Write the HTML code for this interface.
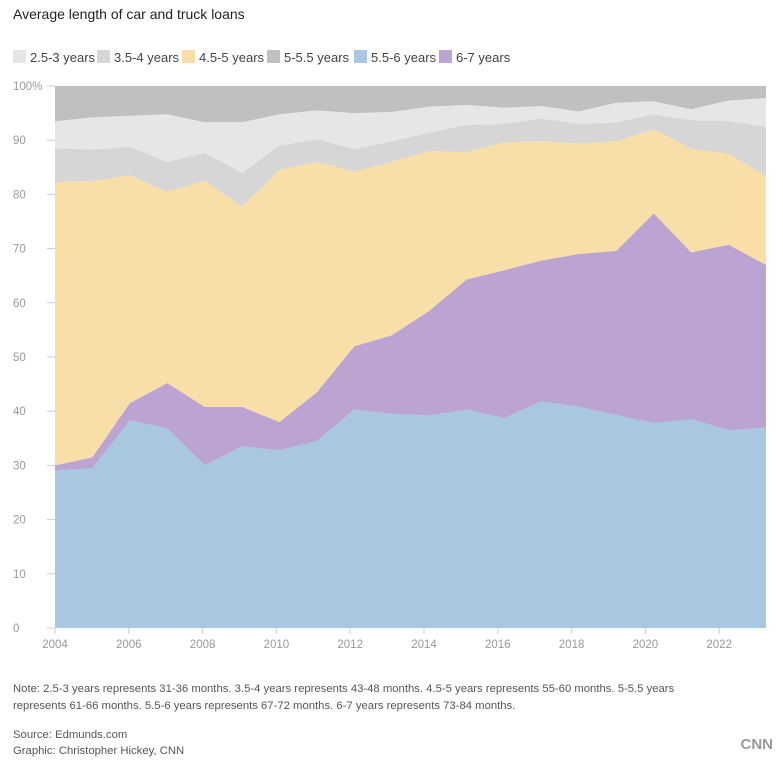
<!DOCTYPE html>
<html><head><meta charset="utf-8"><style>
body{margin:0;background:#fff;font-family:"Liberation Sans",sans-serif;}
svg text{font-family:"Liberation Sans",sans-serif;}
</style></head><body>
<svg id="chart" width="783" height="766">
<text x="13" y="19" font-size="14" fill="#222">Average length of car and truck loans</text>
<g id="legend"></g>
<g id="grid"></g>
<g id="areas"></g>
<g id="axes"></g>
<text x="13" y="692" font-size="11.3" fill="#555">Note: 2.5-3 years represents 31-36 months. 3.5-4 years represents 43-48 months. 4.5-5 years represents 55-60 months. 5-5.5 years</text>
<text x="13" y="709" font-size="11.3" fill="#555">represents 61-66 months. 5.5-6 years represents 67-72 months. 6-7 years represents 73-84 months.</text>
<text x="13" y="738" font-size="11.3" fill="#555">Source: Edmunds.com</text>
<text x="13" y="754" font-size="11.3" fill="#555">Graphic: Christopher Hickey, CNN</text>
<text x="773" y="749" font-size="15" font-weight="bold" fill="#999" text-anchor="end">CNN</text>
</svg>
<script>
const years=[2004,2005,2006,2007,2008,2009,2010,2011,2012,2013,2014,2015,2016,2017,2018,2019,2020,2021,2022,2023];
// cumulative tops of each stacked layer (bottom to top)
const s56=[29,29.5,38.3,36.8,30,33.5,32.8,34.5,40.3,39.5,39.2,40.3,38.7,41.8,40.8,39.3,37.8,38.5,36.5,37];
const s67=[30,31.5,41.5,45.2,40.8,40.8,38,43.5,52,54,58.5,64.3,66,67.8,69,69.6,76.5,69.3,70.7,67];
const s45=[82.2,82.5,83.5,80.5,82.5,77.7,84.5,86,84.2,86,88,87.8,89.6,89.8,89.4,89.8,92,88.4,87.5,83.3];
const s354=[88.5,88.3,88.8,86,87.7,84,89,90.2,88.4,89.8,91.4,92.8,93,94,93,93.3,94.8,93.7,93.6,92.4];
const s253=[93.5,94.2,94.5,94.8,93.3,93.3,94.8,95.5,95,95.2,96.2,96.5,96,96.3,95.3,96.9,97.2,95.7,97.3,97.8];
const s555=[100,100,100,100,100,100,100,100,100,100,100,100,100,100,100,100,100,100,100,100];
const xTicks=[2004,2006,2008,2010,2012,2014,2016,2018,2020,2022];
const yTicks=[0,10,20,30,40,50,60,70,80,90,100];
const legendNames=["2.5-3 years","3.5-4 years","4.5-5 years","5-5.5 years","5.5-6 years","6-7 years"];
const legendColors=["#e6e6e6","#d6d6d6","#f9dea8","#c0c0c0","#a8c8df","#bba4d1"];
const NS="http://www.w3.org/2000/svg";
const x0=55,x1=766,y0=628,y1=86;
const xmin=2004,xmax=2004+(x1-x0)/36.9;
const X=v=>x0+(v-xmin)/(xmax-xmin)*(x1-x0);
const xd=i=>x0+i/(years.length-1)*(x1-x0);
const Y=v=>y0-(v)/100*(y0-y1);
function mk(t,a,p){const e=document.createElementNS(NS,t);for(const k in a)e.setAttribute(k,a[k]);p.appendChild(e);return e;}
const lg=document.getElementById('legend');
let lx=13;
const lw=[84,85,85,87,85,70];
legendNames.forEach((n,i)=>{
 const r=mk('rect',{x:lx,y:50,width:13,height:13,fill:legendColors[i]},lg);
 
 
 const t=mk('text',{x:lx+17,y:62,'font-size':13,fill:'#444'},lg);t.textContent=n;
 
 
 lx+=lw[i];
});
const layers=[[null,s56,"#a8c8df"],[s56,s67,"#bba4d1"],[s67,s45,"#f9dea8"],[s45,s354,"#d6d6d6"],[s354,s253,"#e6e6e6"],[s253,s555,"#c0c0c0"]];
const names=["area-5.5-6","area-6-7","area-4.5-5","area-3.5-4","area-2.5-3","area-5-5.5"];
const ag=document.getElementById('areas');
layers.forEach((L,k)=>{
 let d="";
 L[1].forEach((v,i)=>{d+=(i?"L":"M")+xd(i).toFixed(1)+","+Y(v).toFixed(1);});
 for(let i=years.length-1;i>=0;i--){d+="L"+xd(i).toFixed(1)+","+Y(L[0]?L[0][i]:0).toFixed(1);}
 const p=mk('path',{d:d+"Z",fill:L[2]},ag);
 
 
});
const ax=document.getElementById('axes');
yTicks.forEach(v=>{
 mk('line',{x1:47,x2:x0,y1:Y(v),y2:Y(v),stroke:'#ccc'},ax);
 const t=mk('text',{x:13,y:Y(v)+4,'font-size':11.5,fill:'#999'},ax);
 t.textContent=v===100?"100%":v;
 
 
});
xTicks.forEach(v=>{
 mk('line',{x1:X(v),x2:X(v),y1:y0,y2:y0+6,stroke:'#ccc'},ax);
 const t=mk('text',{x:X(v),y:y0+20,'font-size':11.5,fill:'#999','text-anchor':'middle'},ax);
 t.textContent=v;
 
 
});
</script>
</body></html>
